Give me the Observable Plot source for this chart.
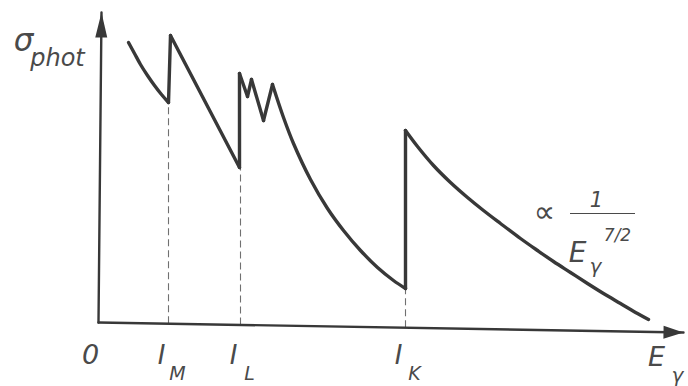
<!DOCTYPE html>
<html>
<head>
<meta charset="utf-8">
<script src="https://cdn.jsdelivr.net/npm/d3@7"></script>
<script src="https://cdn.jsdelivr.net/npm/@observablehq/plot@0.6"></script>
<style>
  html, body { margin: 0; padding: 0; background: #fff; }
  #chart svg { display: block; background: #fff; }
</style>
</head>
<body>
<div id="chart"></div>
<script>
// Photoelectric cross-section σ_phot versus photon energy E_γ (arbitrary units)
const energy = [30, 36, 42, 49, 56, 63, 70, 72, 141, 141, 149, 153, 165, 174, 185, 195, 212, 229, 245, 262, 279, 295, 307, 307, 319, 335, 352, 369, 385, 402, 422, 439, 455, 472, 489, 505, 522, 539, 550];
const sigma  = [280, 269, 258, 247, 237, 228, 220, 287, 155, 249, 226, 243, 202, 238, 205, 179, 143, 114, 92, 72, 55, 42, 34, 192, 176, 157, 140, 125, 112, 99, 84, 72, 61, 50, 39, 29, 19, 9, 3];
// index ranges of the smoothly curved stretches (all other steps are straight)
const smoothRuns = [[0, 6], [13, 22], [23, 38]];

// absorption edges
const edgeNames = ["M", "L", "K"];
const edgeEnergy = [70, 142, 307];
const edgeSigma = [220, 154, 34];

// axes (slightly tilted as in the scan)
const xAxisX = [0, 585];
const xAxisY = [0, -10];
const yAxisX = [0, 3];
const yAxisY = [0, 310];

// build line pieces: smooth runs as one piece, every other step as its own straight piece
const pieces = [];
let seg = 0;
for (let i = 0; i < energy.length - 1; ) {
  const run = smoothRuns.find(([a]) => a === i);
  const end = run ? run[1] : i + 1;
  for (let k = i; k <= end; k++) pieces.push({e: energy[k], s: sigma[k], seg});
  seg++;
  i = end;
}
const edges = edgeEnergy.map((e, i) => ({e, s: edgeSigma[i], name: edgeNames[i]}));
const axisYAt = e => xAxisY[0] + (xAxisY[1] - xAxisY[0]) * (e - xAxisX[0]) / (xAxisX[1] - xAxisX[0]);

const ink = "#383838";
const textInk = "#4a4a4a";
const font = "DejaVu Sans, sans-serif";

// elongated filled arrowhead with the tip at the origin, pointing up
const arrowHead = (len, half) => ({
  draw(context) {
    context.moveTo(0, 0);
    context.lineTo(-half, len);
    context.lineTo(half, len);
    context.closePath();
  }
});

const txt = (data, opts) => Plot.text(data, {
  fontFamily: font, fontStyle: "italic", fontWeight: 300, fill: textInk,
  textAnchor: "middle", lineAnchor: "middle", ...opts
});

const chart = Plot.plot({
  width: 688,
  height: 386,
  margin: 0,
  x: {domain: [0, 590], range: [98, 688], axis: null},
  y: {domain: [0, 310], range: [322, 12], axis: null},
  marks: [
    // dashed edge markers
    Plot.ruleX(edges, {x: "e", y1: d => axisYAt(d.e), y2: "s", stroke: "#707070", strokeWidth: 1.1, strokeDasharray: "7,4"}),
    // axes
    Plot.line(xAxisX.map((x, i) => ({x, y: xAxisY[i]})), {x: "x", y: "y", stroke: ink, strokeWidth: 2.4}),
    Plot.line(yAxisX.map((x, i) => ({x, y: yAxisY[i]})), {x: "x", y: "y", stroke: ink, strokeWidth: 2.4}),
    Plot.dot([{x: yAxisX[1], y: yAxisY[1]}], {x: "x", y: "y", symbol: arrowHead(25, 6), fill: ink, stroke: "none", rotate: 0.6}),
    Plot.dot([{x: xAxisX[1], y: xAxisY[1]}], {x: "x", y: "y", symbol: arrowHead(20, 6.5), fill: ink, stroke: "none", rotate: 91}),
    // cross-section curve
    Plot.line(pieces, {x: "e", y: "s", z: "seg", curve: "catmull-rom", stroke: ink, strokeWidth: 3.4, strokeLinejoin: "round", strokeLinecap: "round"}),
    // axis labels
    txt(["σ"], {x: -75, y: 281, fontSize: 31}),
    txt(["phot"], {x: -41, y: 264, fontSize: 24}),
    txt(["0"], {x: -8, y: -33, fontSize: 27}),
    txt(edges, {x: d => d.e - 7, y: -33, text: () => "I", fontSize: 26}),
    txt(edges, {x: d => d.e + 9, y: -51, text: "name", fontSize: 19}),
    txt(["E"], {x: 558, y: -35, fontSize: 27}),
    txt(["γ"], {x: 579, y: -53, fontSize: 20}),
    // proportionality annotation
    txt(["∝"], {x: 446, y: 110, fontSize: 30}),
    txt(["1"], {x: 498, y: 122, fontSize: 21}),
    Plot.ruleY([109], {x1: 472, x2: 537, stroke: textInk, strokeWidth: 1.2}),
    txt(["E"], {x: 479, y: 69, fontSize: 28}),
    txt(["γ"], {x: 497, y: 56, fontSize: 20}),
    txt(["7/2"], {x: 519, y: 87, fontSize: 17})
  ]
});

document.getElementById("chart").appendChild(chart);
</script>
</body>
</html>
